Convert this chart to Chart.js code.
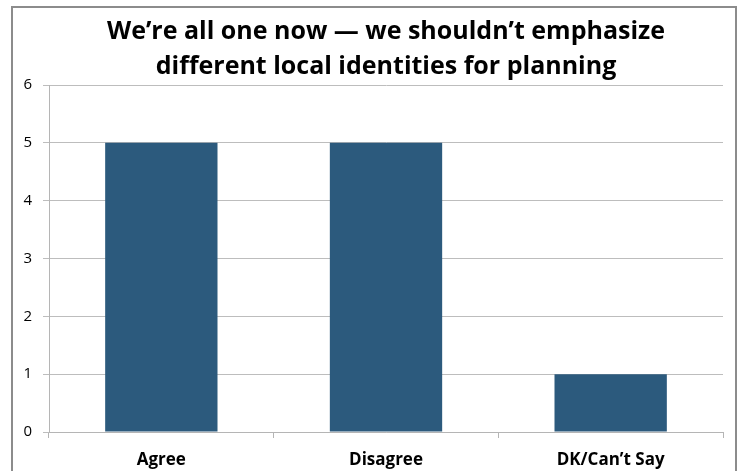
<!DOCTYPE html>
<html>
<head>
<meta charset="utf-8">
<script src="https://cdn.jsdelivr.net/npm/chart.js@4.4.0/dist/chart.umd.min.js"></script>
<style>
  html, body { margin: 0; padding: 0; background: #fff; }
  #wrap { position: relative; width: 743px; height: 471px; }
  #frame { position: absolute; left: 11px; top: 6px; width: 726px; height: 480px; border: 2px solid #8c8c8c; box-sizing: border-box; }
  canvas { position: absolute; left: 0; top: 0; }
</style>
</head>
<body>
<div id="wrap">
  <div id="frame"></div>
  <canvas id="chart" width="743" height="471"></canvas>
</div>
<script>
const categories = ['Agree', 'Disagree', 'DK/Can\u2019t Say'];
const counts = [5, 5, 1];
const yTicks = [0, 1, 2, 3, 4, 5, 6];
const titleLines = ['We\u2019re all one now \u2014 we shouldn\u2019t emphasize', 'different local identities for planning'];

// title centred over the plot area, like the original
const plotTitle = {
    id: 'plotTitle',
    afterDraw(chart) {
        const c = chart.ctx;
        const area = chart.chartArea;
        const cx = (area.left + area.right) / 2;
        c.save();
        c.fillStyle = '#000';
        c.font = 'bold 25px "Open Sans"';
        c.textAlign = 'center';
        c.textBaseline = 'middle';
        titleLines.forEach((t, i) => c.fillText(t, cx, 32 + i * 35));
        c.restore();
    }
};

const ctx = document.getElementById('chart').getContext('2d');
const chart = new Chart(ctx, {
    type: 'bar',
    data: {
        labels: categories,
        datasets: [{
            data: counts,
            backgroundColor: '#2c5a7d',
            borderWidth: 0,
            categoryPercentage: 1,
            barPercentage: 0.5
        }]
    },
    options: {
        responsive: false,
        animation: false,
        layout: { padding: { left: 0, right: 20, top: 85, bottom: 0 } },
        plugins: {
            legend: { display: false },
            tooltip: { enabled: false },
            title: { display: false }
        },
        scales: {
            x: {
                grid: { display: true, drawOnChartArea: false, offset: true, color: '#b5b5b5', tickLength: 6 },
                border: { color: '#b5b5b5' },
                ticks: { color: '#000', font: { family: 'Open Sans', size: 17, weight: 'bold' }, padding: 12 },
                afterFit: function(scale) { scale.height = 39; }
            },
            y: {
                min: 0,
                max: 6,
                afterBuildTicks: function(scale) { scale.ticks = yTicks.map(v => ({ value: v })); },
                grid: { color: '#bdbdbd', tickLength: 6 },
                border: { color: '#b5b5b5' },
                ticks: { color: '#000', font: { family: 'Open Sans', size: 15 }, padding: 11 },
                afterFit: function(scale) { scale.width = 49; }
            }
        }
    },
    plugins: [plotTitle]
});
</script>
</body>
</html>
